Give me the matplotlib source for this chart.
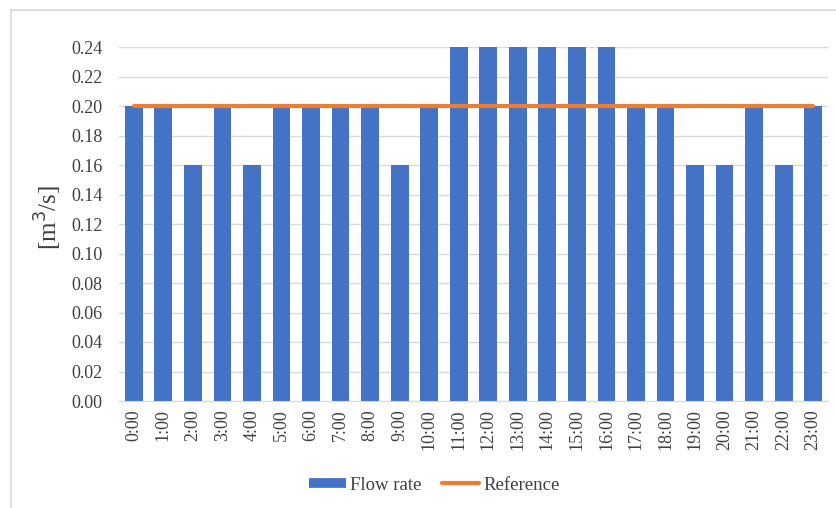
import matplotlib.pyplot as plt
import numpy as np

hours = ["%d:00" % h for h in range(24)]
flow_rate = [0.20, 0.20, 0.16, 0.20, 0.16, 0.20, 0.20, 0.20, 0.20, 0.16, 0.20, 0.24,
             0.24, 0.24, 0.24, 0.24, 0.24, 0.20, 0.20, 0.16, 0.16, 0.20, 0.16, 0.20]
reference = [0.20] * 24
yticks = np.arange(0.0, 0.241, 0.02)

plt.rcParams['font.family'] = ['Liberation Serif', 'DejaVu Serif']

fig = plt.figure(figsize=(8.37, 5.08), dpi=100)
ax = fig.add_axes([119/837, 1-401/508, 709/837, 354/508])

x = np.arange(len(hours))
ax.bar(x, flow_rate, width=0.6, color='#4472C4', zorder=2)
ax.plot(x, reference, color='#ED7D31', linewidth=3, solid_capstyle='round', zorder=3)

ax.set_xlim(-0.5, len(hours) - 0.5)
ax.set_ylim(0, 0.24)
ax.set_yticks(yticks)
ax.set_yticklabels(["%.2f" % v for v in yticks], fontsize=13, color='#404040')
ax.set_xticks(x)
ax.set_xticklabels(hours, rotation=90, fontsize=13, color='#404040')
ax.tick_params(axis='y', length=0, pad=12)
ax.tick_params(axis='x', length=0, pad=6)
ax.grid(axis='y', color='#d9d9d9', linewidth=1, zorder=0)
for s in ['top', 'right', 'left']:
    ax.spines[s].set_visible(False)
ax.spines['bottom'].set_color('#d9d9d9')

fig.text(48/837, 1-217/508, '[m$^3$/s]', fontsize=18, color='#404040',
         rotation=90, ha='center', va='center')

# chart frame
fig.add_artist(plt.Line2D([11/837, 11/837], [0, 1-10/508], color='#d9d9d9', linewidth=1.2))
fig.add_artist(plt.Line2D([11/837, 1], [1-10/508, 1-10/508], color='#d9d9d9', linewidth=1.2))

handles = [plt.Line2D([], [], color='#4472C4', linewidth=7, solid_capstyle='butt'),
           plt.Line2D([], [], color='#ED7D31', linewidth=3, solid_capstyle='round')]
fig.legend(handles, ['Flow rate', 'Reference'], loc='center',
           bbox_to_anchor=(434/837, 1-485/508), ncol=2, frameon=False,
           fontsize=13.5, handlelength=2.0, handletextpad=0.2, columnspacing=1.1,
           labelcolor='#404040')

fig.savefig('out.png', dpi=100)
